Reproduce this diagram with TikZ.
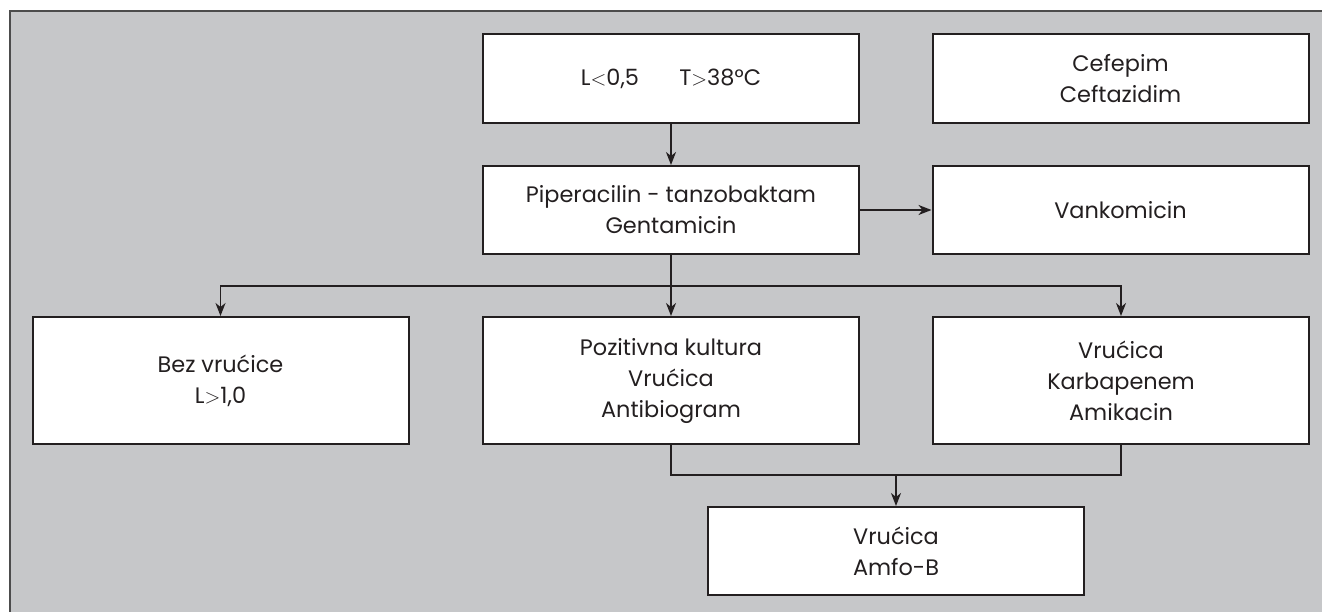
\documentclass[tikz,border=0pt]{standalone}
\usepackage{fontspec}
\setmainfont{Poppins}
\usepackage{tikz}
\usetikzlibrary{arrows.meta, calc}
\definecolor{pozadina}{RGB}{198,199,201}
\definecolor{linija}{RGB}{35,31,32}
\tikzset{
  kutija/.style={draw=linija, line width=2pt, fill=white, minimum width=376pt, align=center,
    font=\fontsize{22.4}{31}\selectfont, text=linija, inner sep=0pt},
  strelica/.style={-{Stealth[length=13pt,width=10pt,inset=4pt]}, line width=1.6pt, draw=linija},
}
\begin{document}
\begin{tikzpicture}[x=1pt,y=-1pt]
            \useasboundingbox (0,0) rectangle (1322,612);
            \fill[pozadina] (10,11) rectangle (1322,612); %pozadina
            \draw[line width=1.5pt,draw=black!70] (10,612) --(10,11) --(1322,11); %okvir
            \node[kutija,minimum height=89pt] (lt) at (671,78.5) {L$<$0,5\hspace{1.8em}T$>$38°C};
            \node[kutija,minimum height=89pt] (cef) at (1120.5,78.5) {Cefepim\\Ceftazidim};
            \node[kutija,minimum height=88pt] (pip) at (671,210) {Piperacilin - tanzobaktam\\Gentamicin};
            \node[kutija,minimum height=88pt] (van) at (1120.5,210) {Vankomicin};
            \node[kutija,minimum height=127pt] (bez) at (220.5,380.5) {Bez vrućice\\L$>$1,0};
            \node[kutija,minimum height=127pt] (poz) at (671,380.5) {Pozitivna kultura\\Vrućica\\Antibiogram};
            \node[kutija,minimum height=127pt] (vru) at (1121,380.5) {Vrućica\\Karbapenem\\Amikacin};
            \node[kutija,minimum height=88pt] (amf) at (896,551) {Vrućica\\Amfo-B};
            \coordinate (grana) at (671,286); %grananje
            \coordinate (spoj) at (896,475); %spajanje
            \draw[strelica] (lt) --(pip);
            \draw[strelica] (pip) --(van);
            \draw[strelica] (pip) --(poz);
            \draw[strelica] (grana) -|(bez);
            \draw[strelica] (grana) -|(vru);
            \draw[line width=1.6pt,draw=linija] (poz.south) |-(spoj) -|(vru.south);
            \draw[strelica] (spoj) --(amf);
        \end{tikzpicture}
\end{document}
